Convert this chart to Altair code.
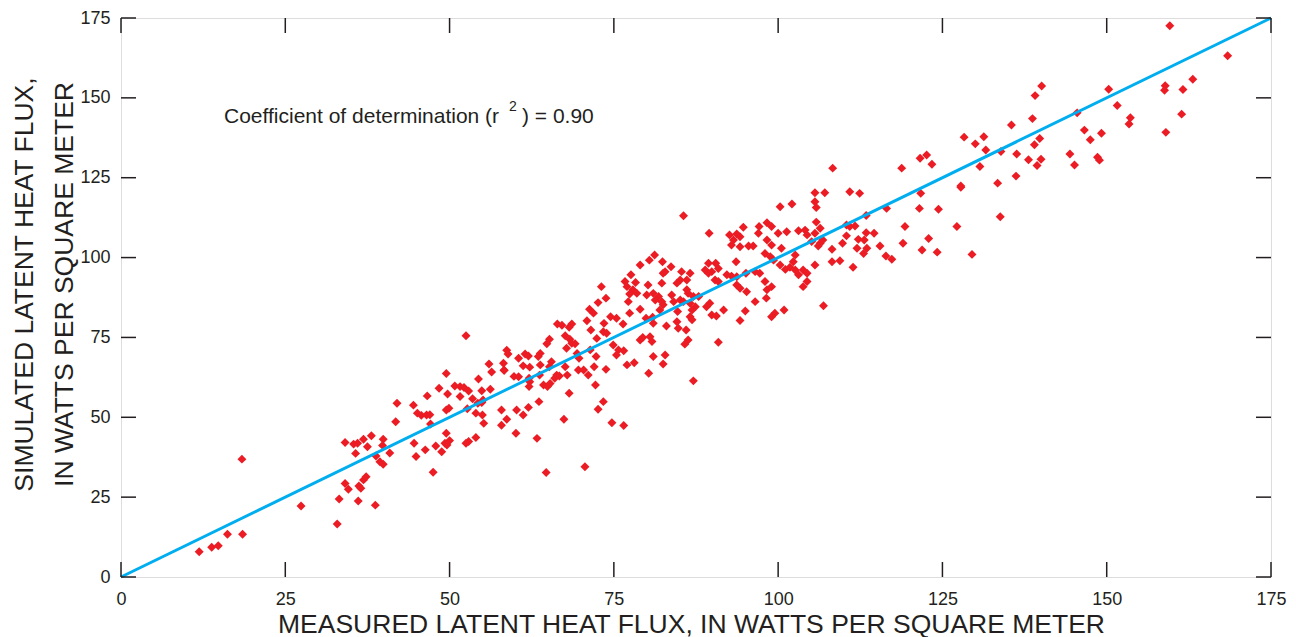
import altair as alt
import pandas as pd

# Measured (x) and simulated (y) latent heat flux, W/m^2
measured = [
    18.4, 11.9, 13.8, 14.8, 16.2, 18.5, 27.4, 32.9, 33.2, 36.1, 38.7, 34.1, 35.4, 36.0, 36.9, 38.1, 39.9, 39.8, 37.5, 35.7,
    38.8, 39.4, 39.9, 34.1, 34.6, 36.2, 36.5, 36.9, 37.3, 40.9,
    52.5, 56.0, 56.4, 58.3, 49.5, 54.4, 48.4, 50.8, 51.6, 52.2, 49.7, 52.9, 54.9, 56.2, 46.6, 51.6, 53.5, 55.1, 54.3, 54.9,
    42.0, 44.5, 45.1, 45.7, 46.5, 47.0, 49.5, 49.9, 52.7, 54.0, 55.0, 57.9, 58.7, 41.8, 47.1, 55.2, 57.9, 49.5, 54.0, 44.6,
    44.9, 46.3, 47.9, 48.8, 49.3, 50.0, 49.6, 52.5, 52.9, 47.5,
    79.0, 80.4, 77.6, 76.7, 78.3, 77.0, 77.9, 77.4, 78.5, 80.0, 73.1, 73.8, 72.6, 77.2, 79.0, 77.4, 71.3, 71.9, 74.5, 75.4,
    70.9, 66.4, 67.1, 68.6, 68.2, 73.5, 76.4, 71.5, 73.4, 73.9, 67.6, 68.3, 68.6, 69.1, 72.4, 65.2, 64.8, 79.0, 79.4, 74.9,
    67.8, 71.4, 75.7, 76.5, 75.4, 69.4, 72.3, 58.7, 58.9, 58.2, 60.5, 61.5, 62.0, 63.8, 63.5, 61.2, 62.2, 65.5, 65.2, 63.8,
    67.6, 69.7, 77.0, 78.1, 80.3, 59.8, 60.5, 62.1, 62.2, 63.7, 66.0, 66.7, 66.3, 67.9, 69.6, 70.4, 71.1, 72.0, 73.8, 64.3,
    64.9, 65.3, 62.1, 72.2, 68.2, 63.6, 73.4, 62.0, 61.2, 60.2, 72.6, 67.4, 74.7, 76.5, 60.1, 63.3, 58.3,
    89.5, 92.6, 93.7, 94.2, 93.2, 97.0, 100.0, 101.3, 98.3, 99.0, 92.9, 94.2, 95.5, 96.2, 98.0, 98.8, 99.3, 100.3, 81.2, 82.4,
    83.7, 82.8, 82.5, 85.3, 86.6, 86.1, 89.4, 90.5, 90.9, 88.9, 89.9, 89.4, 93.6, 92.2, 92.9, 93.7, 95.1, 96.5, 97.2, 90.4,
    90.9, 85.1, 84.6, 98.0, 98.3, 99.0, 93.7, 94.2, 95.2, 80.2, 82.3, 81.0, 81.8, 81.3, 82.3, 83.8, 84.1, 86.1, 86.3, 87.1,
    87.9, 85.1, 85.6, 86.6, 96.5, 98.2, 89.6, 89.1, 87.4, 86.9, 82.5, 82.0, 84.7, 91.7, 95.0, 99.5, 99.0, 100.9, 89.9, 90.6,
    79.9, 80.9, 81.0, 86.6, 86.9, 94.2, 83.0, 84.6, 84.8, 86.0, 80.5, 80.8, 86.3, 85.8, 90.9, 81.0, 82.8, 82.5, 87.1,
    105.6, 107.1, 110.9, 112.4, 102.1, 105.6, 105.8, 100.3, 116.5, 121.5, 121.7, 113.4, 105.8, 106.4, 110.4, 110.9, 111.7,
    103.1, 104.1, 104.4, 105.6, 110.4, 113.4, 114.6, 119.3, 105.1, 106.4, 106.8, 106.1, 112.2, 113.1, 109.8, 113.5, 112.0,
    108.2, 113.0, 115.5, 119.0, 122.9, 121.9, 102.6, 102.3, 100.5, 108.2, 109.4, 105.6, 111.4, 116.4, 117.3, 101.1, 101.8,
    102.6, 103.1, 103.8, 104.4, 103.8, 104.4, 106.9,
    122.6, 121.6, 123.4, 131.6, 133.9, 136.3, 138.1, 140.0, 139.4, 144.4, 145.1, 130.7, 136.2, 127.8, 127.8, 133.4, 124.4,
    133.8, 127.2, 124.2, 129.5,
    159.6, 168.4, 163.1, 158.9, 158.8, 161.6, 150.3, 145.5, 151.6, 153.6, 153.4, 161.4, 159.0, 146.6, 147.5, 149.2, 148.6,
    148.9,
    140.1, 139.1, 138.7, 135.5, 139.8, 139.0, 128.3, 131.3, 130.0, 118.8, 108.3,
    85.6, 98.3, 99.0, 97.1, 94.7,
    64.7, 70.6,
]
simulated = [
    36.9, 7.9, 9.3, 9.8, 13.4, 13.4, 22.2, 16.6, 24.4, 23.8, 22.5, 42.1, 41.6, 41.9, 43.1, 44.2, 43.1, 41.2, 40.8, 38.7,
    37.9, 36.1, 35.3, 29.3, 27.5, 28.5, 27.8, 30.4, 31.4, 38.8,
    75.5, 66.7, 64.2, 64.7, 63.7, 62.0, 59.1, 59.8, 59.6, 59.3, 57.3, 58.2, 58.3, 58.8, 56.7, 56.5, 55.8, 55.4, 54.4, 54.6,
    54.4, 53.8, 51.3, 50.6, 50.7, 50.8, 52.3, 52.8, 52.7, 51.3, 50.7, 52.3, 49.4, 48.6, 47.9, 48.1, 47.5, 45.0, 43.7, 41.9,
    37.7, 39.8, 41.0, 39.2, 41.9, 42.7, 41.3, 41.9, 42.4, 32.8,
    97.7, 99.2, 94.6, 92.5, 92.2, 90.9, 89.9, 88.6, 88.8, 88.3, 90.9, 87.3, 85.9, 86.2, 83.8, 82.6, 83.8, 82.6, 81.5, 81.0,
    80.2, 79.2, 78.8, 79.2, 78.2, 79.4, 79.2, 77.3, 76.8, 76.3, 75.5, 74.4, 73.2, 73.0, 74.7, 74.4, 73.0, 74.2, 75.0, 72.6,
    71.6, 71.1, 71.1, 70.8, 69.5, 70.0, 69.0, 71.0, 69.8, 66.9, 68.5, 69.8, 69.2, 70.0, 69.0, 66.1, 65.7, 67.4, 65.8, 66.4,
    65.8, 68.5, 66.4, 67.1, 63.8, 62.8, 62.7, 62.2, 61.1, 63.2, 62.2, 62.9, 63.2, 63.2, 64.8, 64.8, 63.2, 65.8, 65.0, 60.1,
    59.6, 60.6, 59.6, 60.1, 57.5, 54.9, 54.9, 53.1, 50.7, 52.3, 52.5, 49.4, 48.3, 47.4, 45.0, 43.4, 64.7,
    107.6, 107.1, 107.4, 106.5, 105.5, 107.6, 107.6, 108.1, 105.5, 103.9, 103.9, 103.4, 103.6, 103.6, 101.3, 100.3, 99.2,
    97.7, 100.8, 98.7,
    97.1, 95.6, 95.1, 95.6, 95.1, 93.0, 98.2, 98.2, 96.6, 96.1, 95.6, 95.1, 98.7, 94.6, 94.2, 94.0, 95.1, 95.6, 95.1, 93.0,
    92.5, 93.0, 92.0, 92.5, 89.9, 90.9, 91.4, 90.4, 89.3, 91.4, 92.0, 88.8, 87.8, 86.7, 86.2, 88.3, 86.2, 89.9, 88.8, 87.8,
    87.8, 86.7, 86.2, 85.7, 86.2, 87.3, 85.7, 84.6, 84.6, 83.6, 85.2, 83.6, 83.1, 83.6, 83.3, 82.6, 81.5, 83.6, 82.0, 81.7,
    81.0, 81.3, 79.4, 81.5, 80.5, 80.3, 78.6, 79.9, 77.9, 77.3, 75.2, 73.7, 74.2, 72.9, 73.5, 69.0, 69.5, 66.7, 61.4,
    120.3, 120.3, 120.6, 120.1, 116.8, 117.5, 115.7, 115.9, 115.4, 115.4, 120.1, 113.2, 111.1, 109.2, 110.2, 109.7, 109.9,
    108.4, 108.6, 107.1, 107.6, 106.8, 107.8, 107.6, 109.7, 105.0, 104.5, 105.5, 103.6, 105.7, 105.5, 104.5, 102.9, 102.9,
    102.6, 101.3, 103.6, 104.5, 106.0, 102.4, 100.8, 98.7, 102.9, 98.7, 99.0, 97.7, 97.0, 100.5, 99.5, 96.3, 97.0,
    96.1, 94.6, 96.1, 95.1, 90.9, 92.5, 84.9,
    132.1, 131.1, 129.2, 133.7, 133.2, 132.4, 130.6, 130.8, 128.8, 132.4, 129.0, 128.5, 125.5, 122.4, 122.0, 123.3, 115.1,
    112.8, 109.7, 101.7, 101.0,
    172.6, 163.2, 155.8, 153.8, 152.4, 152.6, 152.7, 145.3, 147.6, 143.8, 141.8, 144.9, 139.2, 139.9, 136.9, 138.9, 131.4,
    130.5,
    153.7, 150.7, 143.5, 141.5, 137.3, 135.3, 137.7, 137.8, 135.6, 128.0, 128.0,
    113.1, 110.9, 109.7, 109.7, 109.5,
    32.7, 34.5,
]

tick_values = [0, 25, 50, 75, 100, 125, 150, 175]
one_to_one = [0, 175]
annotation_parts = ["Coefficient of determination (r", "2", ") = 0.90"]
x_title = "MEASURED LATENT HEAT FLUX, IN WATTS PER SQUARE METER"
y_title = ["SIMULATED LATENT HEAT FLUX,", "IN WATTS PER SQUARE METER"]

W, H = 1150, 559
INK = "#231F20"
FONT = "Liberation Sans"
TICK = 15

pts = pd.DataFrame({"measured": measured, "simulated": simulated})
line_df = pd.DataFrame({"a": one_to_one, "b": one_to_one})
ticks_df = pd.DataFrame({"t": tick_values})

xs = alt.Scale(domain=[0, 175], nice=False, zero=False)
ys = alt.Scale(domain=[0, 175], nice=False, zero=False)

x_axis = alt.Axis(
    values=tick_values, title=x_title, domain=False, ticks=False, grid=False,
    labelFontSize=18, labelPadding=13, labelFont=FONT, labelColor=INK,
    labelFlush=False, labelOverlap=False,
    titleFontSize=26.5, titleFont=FONT, titleFontWeight="normal", titleColor=INK,
    titleX=570, titleY=55, titleBaseline="alphabetic", titleAlign="center",
)
y_axis = alt.Axis(
    values=tick_values, title=y_title, domain=False, ticks=False, grid=False,
    labelFontSize=18, labelPadding=11, labelFont=FONT, labelColor=INK,
    labelFlush=False, labelOverlap=False,
    titleFontSize=26.5, titleFont=FONT, titleFontWeight="normal", titleColor=INK,
    titleX=-89, titleY=266, titleBaseline="alphabetic", titleAlign="center",
    titleAngle=270, titleLineHeight=40,
)

points = alt.Chart(pts).mark_point(
    shape="diamond", filled=True, color="#EC1C24", size=80, opacity=1
).encode(
    x=alt.X("measured:Q", scale=xs, axis=x_axis),
    y=alt.Y("simulated:Q", scale=ys, axis=y_axis),
)

line = alt.Chart(line_df).mark_line(color="#00AEEF", strokeWidth=3).encode(
    x=alt.X("a:Q", scale=xs, axis=x_axis),
    y=alt.Y("b:Q", scale=ys, axis=y_axis),
)

tick_style = dict(color=INK, strokeWidth=1.5)
bottom_ticks = alt.Chart(ticks_df).mark_rule(**tick_style).encode(
    x=alt.X("t:Q", scale=xs, axis=x_axis), y=alt.value(H), y2=alt.value(H - TICK))
top_ticks = alt.Chart(ticks_df).mark_rule(**tick_style).encode(
    x=alt.X("t:Q", scale=xs, axis=x_axis), y=alt.value(0), y2=alt.value(TICK))
left_ticks = alt.Chart(ticks_df).mark_rule(**tick_style).encode(
    y=alt.Y("t:Q", scale=ys, axis=y_axis), x=alt.value(0), x2=alt.value(TICK))
right_ticks = alt.Chart(ticks_df).mark_rule(**tick_style).encode(
    y=alt.Y("t:Q", scale=ys, axis=y_axis), x=alt.value(W), x2=alt.value(W - TICK))

one_row = pd.DataFrame({"k": [0]})
ann1 = alt.Chart(one_row).mark_text(
    font=FONT, fontSize=21, color=INK, align="left", baseline="alphabetic"
).encode(text=alt.value(annotation_parts[0]), x=alt.value(103), y=alt.value(105))
ann2 = alt.Chart(one_row).mark_text(
    font=FONT, fontSize=14, color=INK, align="left", baseline="alphabetic"
).encode(text=alt.value(annotation_parts[1]), x=alt.value(388), y=alt.value(93))
ann3 = alt.Chart(one_row).mark_text(
    font=FONT, fontSize=21, color=INK, align="left", baseline="alphabetic"
).encode(text=alt.value(annotation_parts[2]), x=alt.value(401), y=alt.value(105))

chart = alt.layer(
    points, line, bottom_ticks, top_ticks, left_ticks, right_ticks, ann1, ann2, ann3
).properties(
    width=W, height=H,
    padding={"left": 121, "top": 18, "right": 25, "bottom": 60},
    autosize="none",
).configure_view(stroke=INK, strokeWidth=1.5).configure(background="white")

chart.save("out.html", embed_options={"renderer": "svg", "actions": False})
